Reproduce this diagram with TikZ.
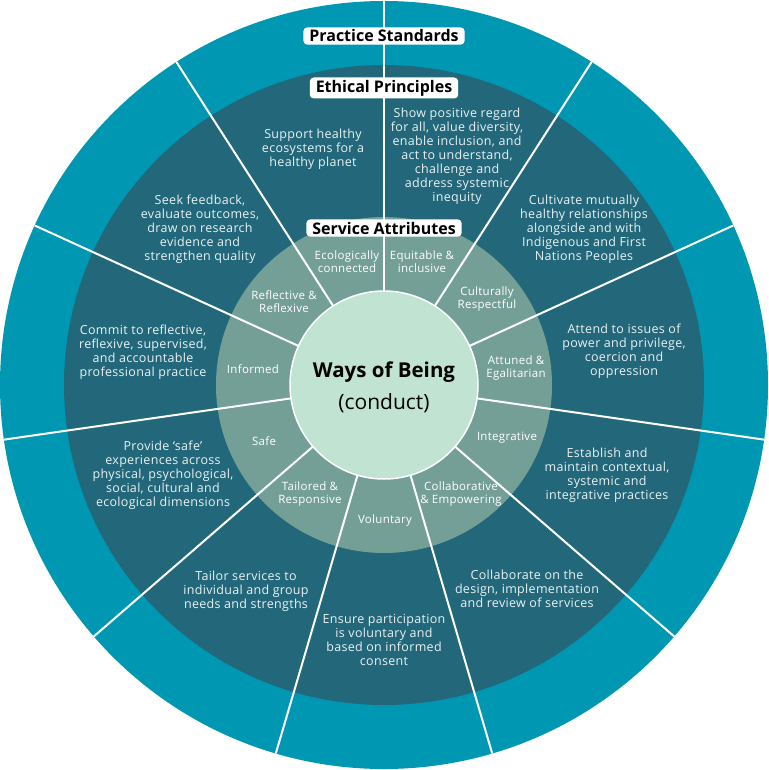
\documentclass[tikz,border=0pt]{standalone}
\usepackage{fontspec}
\setmainfont{Open Sans}
\newfontfamily\spacedfont[LetterSpace=2.5]{Open Sans}
\definecolor{outerteal}{HTML}{0097B2}
\definecolor{darkteal}{HTML}{22687A}
\definecolor{midgreen}{HTML}{739F96}
\definecolor{palegreen}{HTML}{C1E3D1}
\definecolor{ptextcol}{HTML}{EAF2F3}
\begin{document}
\begin{tikzpicture}[x=1pt,y=1pt,
  ptext/.style={text=ptextcol, align=center, font=\spacedfont\fontsize{12.5}{14}\selectfont, inner sep=0pt},
  atext/.style={text=white, align=center, font=\spacedfont\fontsize{11.5}{13}\selectfont, inner sep=0pt},
  hbox/.style={fill=white, rounded corners=4pt, font=\fontsize{16}{18}\selectfont\bfseries, text=black, inner xsep=6pt, inner ysep=2.5pt},
  spoke/.style={white, line width=2pt}]
\useasboundingbox (0,0) rectangle (768,-770);
\coordinate (O) at (384,-385);
\fill[outerteal] (O) circle (384);
\fill[darkteal] (O) circle (320);
\fill[midgreen] (O) circle (168);
\foreach \k in {0,...,10} {
  \draw[spoke, shift={(384,-385)}] ({90-\k*360/11}:94) -- ({90-\k*360/11}:384);
}
\fill[palegreen] (O) circle (94);
\draw[white, line width=1.5pt] (O) circle (94);
% centre
\node[font=\fontsize{20.5}{24}\selectfont\bfseries, text=black] (wob) at (384,-372) {Ways of Being};
\node[font=\fontsize{21}{24}\selectfont, text=black] (cond) at (384,-403) {(conduct)};
% headings
\node[hbox] (ps) at (384,-36) {Practice Standards};
\node[hbox] (ep) at (384,-88) {Ethical Principles};
\node[hbox] (sa) at (384,-228) {Service Attributes};
% ethical principles (dark ring)
\node[ptext] (p1) at (457,-156) {Show positive regard\\for all, value diversity,\\enable inclusion, and\\act to understand,\\challenge and\\address systemic\\inequity};
\node[ptext] (p2) at (313,-149) {Support healthy\\ecosystems for a\\healthy planet};
\node[ptext] (p3) at (200,-229) {Seek feedback,\\evaluate outcomes,\\draw on research\\evidence and\\strengthen quality};
\node[ptext] (p4) at (584,-229) {Cultivate mutually\\healthy relationships\\alongside and with\\Indigenous and First\\Nations Peoples};
\node[ptext] (p5) at (624,-351) {Attend to issues of\\power and privilege,\\coercion and\\oppression};
\node[ptext] (p6) at (143,-352) {Commit to reflective,\\reflexive, supervised,\\and accountable\\professional practice};
\node[ptext] (p7) at (607,-475) {Establish and\\maintain contextual,\\systemic and\\integrative practices};
\node[ptext] (p8) at (163,-475) {Provide ‘safe’\\experiences across\\physical, psychological,\\social, cultural and\\ecological dimensions};
\node[ptext] (p9) at (246,-591) {Tailor services to\\individual and group\\needs and strengths};
\node[ptext] (p10) at (527,-589) {Collaborate on the\\design, implementation\\and review of services};
\node[ptext] (p11) at (384,-640) {Ensure participation\\is voluntary and\\based on informed\\consent};
% service attributes (light ring)
\node[atext] (a1) at (347,-262) {Ecologically\\connected};
\node[atext] (a2) at (422,-262) {Equitable \&\\inclusive};
\node[atext] (a3) at (487,-299) {Culturally\\Respectful};
\node[atext] (a4) at (516,-368) {Attuned \&\\Egalitarian};
\node[atext] (a5) at (507,-438) {Integrative};
\node[atext] (a6) at (461,-494) {Collaborative\\\& Empowering};
\node[atext] (a7) at (385,-521) {Voluntary};
\node[atext] (a8) at (310,-494) {Tailored \&\\Responsive};
\node[atext] (a9) at (264,-441) {Safe};
\node[atext] (a10) at (253,-369) {Informed};
\node[atext] (a11) at (284,-302) {Reflective \&\\Reflexive};
\end{tikzpicture}
\end{document}
